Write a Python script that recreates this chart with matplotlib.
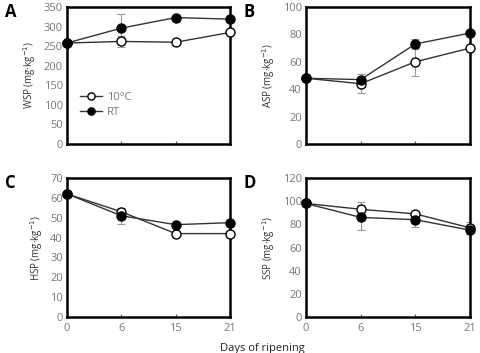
import matplotlib
matplotlib.use("Agg")
import matplotlib.pyplot as plt

plt.rcParams['font.family'] = ['Open Sans', 'DejaVu Sans']

days = ["0", "6", "15", "21"]

wsp_10c = [258, 262, 260, 285]
wsp_rt = [258, 296, 323, 319]
wsp_10c_err = [0, 15, 0, 0]
wsp_rt_err = [0, 36, 0, 0]

asp_10c = [48, 44, 60, 70]
asp_rt = [48, 47, 73, 81]
asp_10c_err = [0, 7, 10, 0]
asp_rt_err = [0, 2, 4, 0]

hsp_10c = [62, 53, 42, 42]
hsp_rt = [62, 51, 46.5, 47.5]
hsp_10c_err = [0, 2, 0, 0]
hsp_rt_err = [0, 4, 0, 0]

ssp_10c = [98, 93, 89, 77]
ssp_rt = [98, 86, 84, 75]
ssp_10c_err = [0, 6, 0, 5]
ssp_rt_err = [0, 11, 6, 0]

panels = [
    ("A", "WSP", wsp_10c, wsp_10c_err, wsp_rt, wsp_rt_err, 350, 50),
    ("B", "ASP", asp_10c, asp_10c_err, asp_rt, asp_rt_err, 100, 20),
    ("C", "HSP", hsp_10c, hsp_10c_err, hsp_rt, hsp_rt_err, 70, 10),
    ("D", "SSP", ssp_10c, ssp_10c_err, ssp_rt, ssp_rt_err, 120, 20),
]

fig = plt.figure(figsize=(4.81, 3.53), dpi=100)
W, H = 481, 353
boxes = [(67, 7, 230, 144), (306, 7, 470, 144), (67, 178, 230, 317), (306, 178, 470, 317)]
gray = "#777777"

x = list(range(len(days)))
for (letter, name, v10, e10, vrt, ert, ymax, step), (l, t, r, b) in zip(panels, boxes):
    ax = fig.add_axes([l / W, 1 - b / H, (r - l) / W, (b - t) / H])
    ax.errorbar(x, v10, yerr=e10, fmt="none", ecolor="#999999", elinewidth=0.8, capsize=3, capthick=0.8, zorder=1)
    ax.errorbar(x, vrt, yerr=ert, fmt="none", ecolor="#999999", elinewidth=0.8, capsize=3, capthick=0.8, zorder=1)
    ax.plot(x, v10, "-o", color="#333333", lw=1, mfc="white", mec="black", mew=1, ms=6.5, label="10°C", zorder=3, clip_on=False)
    ax.plot(x, vrt, "-o", color="#333333", lw=1, mfc="black", mec="black", mew=1, ms=6.5, label="RT", zorder=4, clip_on=False)
    ax.set_xlim(0, 3)
    ax.set_ylim(0, ymax)
    ax.set_yticks(range(0, ymax + 1, step))
    ax.set_xticks(x)
    if letter in ("C", "D"):
        ax.set_xticklabels(days)
    else:
        ax.set_xticklabels([])
    ax.tick_params(axis="y", length=0, labelsize=8, labelcolor=gray, pad=3)
    ax.tick_params(axis="x", direction="in", length=2, width=0.8, color="#555555", labelsize=8, labelcolor=gray, pad=4)
    for s in ax.spines.values():
        s.set_linewidth(1.8)
        s.set_color("black")
    ax.set_ylabel(f"{name} (mg·kg$^{{-1}}$)", fontsize=7, color="#333333", labelpad=4)
    fig.text((l - 62) / W, 1 - (t + 5) / H, letter, fontsize=12, fontweight="bold", va="center", ha="left")
    if letter == "A":
        ax.legend(loc="upper left", bbox_to_anchor=(0.02, 0.45), frameon=False, fontsize=8,
                  markerscale=0.8, handlelength=2, handletextpad=0.4, labelspacing=0.3,
                  labelcolor=gray)

fig.text(262 / W, 1 - 348 / H, "Days of ripening", ha="center", va="center", fontsize=8, color="#222222")

fig.savefig("out.png", dpi=100)
